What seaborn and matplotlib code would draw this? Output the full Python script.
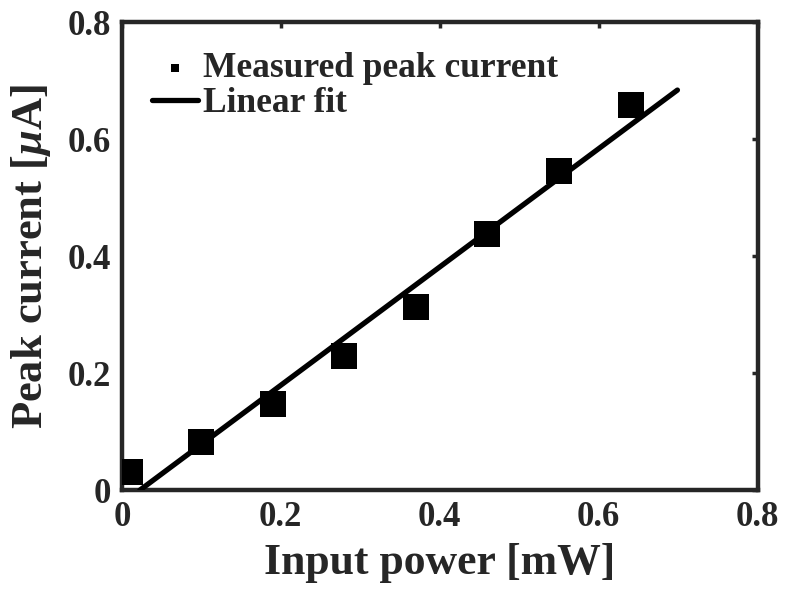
import matplotlib
matplotlib.use("Agg")
import matplotlib.pyplot as plt
import seaborn as sns
import pandas as pd

# Measured data
input_power = [0.01, 0.10, 0.19, 0.28, 0.37, 0.46, 0.55, 0.64]
peak_current = [0.031, 0.082, 0.148, 0.229, 0.313, 0.438, 0.545, 0.658]

# Linear fit line endpoints (x range and fitted y)
fit_power = [0.0226, 0.699]
fit_current = [0.0, 0.684]

xticks = [0, 0.2, 0.4, 0.6, 0.8]
yticks = [0, 0.2, 0.4, 0.6, 0.8]
tick_labels = ["0", "0.2", "0.4", "0.6", "0.8"]

sns.set_style("white")
plt.rcParams["font.family"] = ["Liberation Serif", "DejaVu Serif"]
plt.rcParams["font.weight"] = "bold"
plt.rcParams["mathtext.fontset"] = "custom"
plt.rcParams["mathtext.it"] = "Liberation Serif:italic:bold"
plt.rcParams["mathtext.rm"] = "Liberation Serif:bold"

fig = plt.figure(figsize=(7.86, 6.0), dpi=100)
ax = fig.add_axes([0.155, 0.183, 0.809, 0.780])

df = pd.DataFrame({"power": input_power, "current": peak_current})
fit_df = pd.DataFrame({"power": fit_power, "current": fit_current})

sns.scatterplot(data=df, x="power", y="current", marker="s", s=330,
                color="black", edgecolor="black", linewidth=0,
                ax=ax, zorder=3, label="Measured peak current")
sns.lineplot(data=fit_df, x="power", y="current", color="black",
             linewidth=3.8, ax=ax, zorder=4, label="Linear fit")

ax.set_xlim(0, 0.8)
ax.set_ylim(0, 0.8)
ax.set_xticks(xticks)
ax.set_yticks(yticks)
ax.set_xticklabels(tick_labels)
ax.set_yticklabels(tick_labels)
ax.tick_params(direction="in", length=4, width=2.5, color="#262626",
               labelsize=25, top=True, right=True, pad=8)
for lab in ax.get_xticklabels() + ax.get_yticklabels():
    lab.set_fontweight("bold")
    lab.set_color("#262626")

for sp in ax.spines.values():
    sp.set_linewidth(3.2)
    sp.set_color("#262626")
    sp.set_visible(True)

ax.set_xlabel("Input power [mW]", fontsize=31.5, fontweight="bold",
              color="#262626", labelpad=6)
ax.set_ylabel(r"Peak current [$\mu$A]", fontsize=32, fontweight="bold",
              color="#262626", labelpad=10)

leg = ax.legend(loc="upper left", frameon=False, fontsize=25.5,
                handlelength=1.3, handletextpad=0.15, borderaxespad=0.55,
                borderpad=0.3, labelspacing=0.05, markerscale=0.3)
for t in leg.get_texts():
    t.set_fontweight("bold")

fig.savefig("out.png", dpi=100)
